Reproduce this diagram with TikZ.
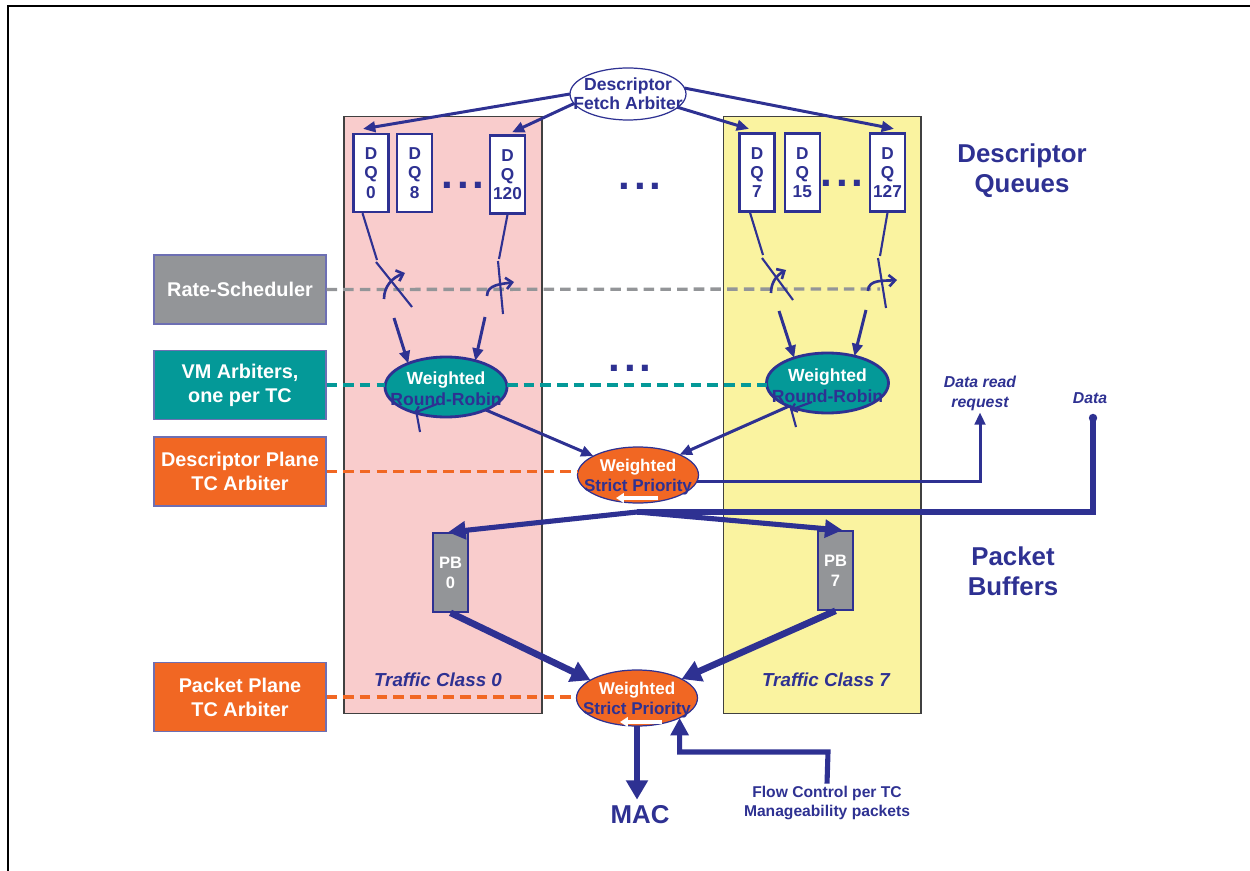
\documentclass[tikz,border=0pt]{standalone}
\usepackage{fontspec}
\setmainfont{Liberation Sans}
\usepackage{xcolor}
\usepackage{tikz}
\usetikzlibrary{arrows.meta,positioning,shapes.geometric,calc}
\definecolor{qblue}{RGB}{46,49,146}
\definecolor{tcpink}{RGB}{249,204,204}
\definecolor{tcyellow}{RGB}{250,243,160}
\definecolor{rsgray}{RGB}{147,149,152}
\definecolor{vmteal}{RGB}{4,153,152}
\definecolor{tcorange}{RGB}{241,103,35}
\tikzset{
  tcband/.style={rectangle, draw=black!75, line width=0.6pt, minimum width=3.96cm, minimum height=11.96cm, inner sep=0},
  tclabel/.style={text=qblue, font=\fontsize{10.7}{12}\selectfont\bfseries\itshape},
  fetchoval/.style={ellipse, draw=qblue, line width=0.7pt, fill=white, minimum width=2.32cm, minimum height=1.04cm, inner sep=0, outer sep=0},
  smalltxt/.style={align=center, text=qblue, inner sep=1pt, font=\fontsize{10}{11}\selectfont\bfseries},
  dqbox/.style={rectangle, draw=qblue, line width=1.3pt, fill=white, minimum width=0.7cm, minimum height=1.56cm, inner sep=0, align=center, text=qblue, font=\fontsize{9.8}{11}\selectfont\bfseries},
  dotstxt/.style={text=qblue, inner sep=0, font=\fontsize{24}{24}\selectfont\bfseries},
  headtxt/.style={align=center, text=qblue, font=\fontsize{14.7}{17}\selectfont\bfseries},
  legendbox/.style={rectangle, draw=qblue!70, line width=0.6pt, minimum width=3.44cm, minimum height=1.38cm, inner sep=0, align=center, text=white, font=\fontsize{11.3}{13.6}\selectfont\bfseries},
  wrroval/.style={ellipse, draw=qblue, line width=1.6pt, fill=vmteal, minimum width=2.44cm, minimum height=1.2cm, inner sep=0, outer sep=0},
  wspoval/.style={ellipse, draw=qblue, line width=0.7pt, fill=tcorange, minimum width=2.42cm, minimum height=1.12cm, inner sep=0, outer sep=0},
  arbtxt/.style={align=center, inner sep=0, text=qblue, font=\fontsize{10}{11.8}\selectfont\bfseries},
  pbbox/.style={rectangle, draw=qblue, line width=0.9pt, fill=rsgray, minimum width=0.7cm, minimum height=1.58cm, inner sep=0, align=center, text=white, font=\fontsize{9.4}{11.5}\selectfont\bfseries},
  noteitxt/.style={align=center, text=qblue, inner sep=1pt, font=\fontsize{9}{11.3}\selectfont\bfseries\itshape},
  notetxt/.style={align=center, text=qblue, inner sep=1pt, font=\fontsize{8.9}{11.3}\selectfont\bfseries},
  dashlink/.style={line width=1.9pt, dash pattern=on 6pt off 3.5pt},
  swline/.style={draw=qblue, line width=1.2pt},
  swarrow/.style={draw=qblue, line width=1.5pt, -{Straight Barb[length=3.5pt,width=6.5pt]}},
  rrmark/.style={draw=qblue, line width=1.2pt, -{Straight Barb[length=3pt,width=5pt]}},
  thinarrow/.style={draw=qblue, line width=1.7pt, -{Triangle[length=7pt,width=6pt]}},
  feedarrow/.style={draw=qblue, line width=2.9pt, -{Triangle[length=10pt,width=10pt]}},
  fatarrow/.style={draw=qblue, line width=3.8pt, -{Triangle[length=11pt,width=12pt]}},
  whitearrow/.style={draw=white, line width=1.8pt, -{Triangle[length=4.5pt,width=5.5pt]}}
}

\begin{document}
\begin{tikzpicture}[x=0.02cm, y=-0.02cm]
\useasboundingbox (0,0) rectangle (1250,871);
\draw[line width=1.3pt] (8,871) -- (8,6) -- (1250,6);

% traffic class columns
\node[tcband, fill=tcpink] (band0) at (443,415) {};
\node[tcband, fill=tcyellow] (band7) at (822,415) {};
\node[tclabel] (tc0) at (438,680) {Traffic Class 0};
\node[tclabel] (tc7) at (826,680) {Traffic Class 7};

% descriptor queues
\node[fetchoval] (fetch) at (628,94) {};
\node[smalltxt] (fetchtxt) at (fetch) {Descriptor\\Fetch Arbiter};
\node[dqbox] (dq0) at (371,173) {D\\Q\\0};
\node[dqbox, right=0.13cm of dq0] (dq8) {D\\Q\\8};
\node[dqbox] (dq120) at (507.5,174.5) {D\\Q\\120};
\node[dqbox] (dq7) at (757,172.5) {D\\Q\\7};
\node[dqbox, right=0.16cm of dq7] (dq15) {D\\Q\\15};
\node[dqbox] (dq127) at (887.5,172.5) {D\\Q\\127};
\node[dotstxt] (dotsa) at (463,185) {.\kern2pt.\kern2pt.};
\node[dotstxt] (dotsb) at (640,186) {.\kern2pt.\kern2pt.};
\node[dotstxt] (dotsc) at (842,183) {.\kern2pt.\kern2pt.};
\node[dotstxt] (dotsd) at (630,368) {.\kern2pt.\kern2pt.};
\node[headtxt] (dqhead) at (1022,171) {Descriptor\\Queues};

\draw[thinarrow] (fetch.180) -- ([xshift=-0.16cm,yshift=0.08cm]dq0.north);
\draw[thinarrow] (fetch.190) -- ([xshift=0.09cm,yshift=0.04cm]dq120.north);
\draw[thinarrow] (fetch.-15) -- ([xshift=-0.16cm,yshift=0.07cm]dq7.north);
\draw[thinarrow] (fetch.6) -- ([xshift=0.13cm,yshift=0.07cm]dq127.north);

% legend boxes
\node[legendbox, fill=rsgray] (ratesch) at (240,289.5) {Rate-Scheduler};
\node[legendbox, fill=vmteal] (vmarb) at (240,385) {VM Arbiters,\\one per TC};
\node[legendbox, fill=tcorange] (dparb) at (240,471.5) {Descriptor Plane\\TC Arbiter};
\node[legendbox, fill=tcorange] (pparb) at (240,697) {Packet Plane\\TC Arbiter};

% arbiters
\node[wrroval] (wrr0) at (446,387) {};
\node[wrroval] (wrr7) at (827.5,383) {};
\node[wspoval] (wspd) at (638,475) {};
\node[wspoval] (wspp) at (637,698) {};

\coordinate (rsend) at (880,289);
\draw[dashlink, rsgray] (ratesch.east) -- (rsend);
\draw[dashlink, vmteal] (vmarb.east) -- (vmarb.east -| wrr0.west);
\draw[dashlink, vmteal] (vmarb.east -| wrr0.east) -- (vmarb.east -| wrr7.west);
\draw[dashlink, tcorange] (dparb.east) -- (dparb.east -| wspd.west);
\draw[dashlink, tcorange] (pparb.east) -- (pparb.east -| wspp.west);

% rate switches
\coordinate (sw0in) at (377,260);
\coordinate (sw0out) at (394,318);
\draw[swline] ([xshift=-0.17cm]dq0.south) -- (sw0in);
\draw[swline] (376,262) -- (412,307);
\draw[swarrow] (384,299) to[out=90,in=200] (405,273);
\draw[thinarrow] (sw0out) -- (wrr0.148);

\coordinate (sw1in) at (499,259);
\coordinate (sw1out) at (485,317);
\draw[swline] (dq120.south) -- (sw1in);
\draw[swline] (498,261) -- (503,314);
\draw[swarrow] (487,296) to[out=90,in=190] (514,282);
\draw[thinarrow] (sw1out) -- (wrr0.42);

\coordinate (sw2in) at (763,255);
\coordinate (sw2out) at (779,311);
\draw[swline] ([xshift=-0.14cm]dq7.south) -- (sw2in);
\draw[swline] (762,258) -- (793,300);
\draw[swarrow] (771,293) to[out=90,in=210] (786,270);
\draw[thinarrow] (sw2out) -- (wrr7.143);

\coordinate (sw3in) at (880,256);
\coordinate (sw3out) at (866,310);
\draw[swline] (dq127.south) -- (sw3in);
\draw[swline] (878,258) -- (886,308);
\draw[swarrow] (868,291) to[out=90,in=185] (897,280);
\draw[thinarrow] (sw3out) -- (wrr7.45);

% round robin marks
\draw[swline] (416,410) -- (420,432);
\draw[rrmark] (437,404) -- (414,413);
\draw[swline] (790,405) -- (796,427);
\draw[rrmark] (812,402) -- (790,410);

\node[arbtxt] (wrr0txt) at (446,389) {\textcolor{white}{Weighted}\\Round-Robin};
\node[arbtxt] (wrr7txt) at (827.5,386) {\textcolor{white}{Weighted}\\Round-Robin};

\draw[thinarrow] (wrr0.-30) -- (wspd.157);
\draw[thinarrow] (wrr7.211) -- (wspd.26);

\node[arbtxt, font=\fontsize{9.7}{11.3}\selectfont\bfseries] (wspdtxt) at (638,477) {\textcolor{white}{Weighted}\\Strict Priority};
\draw[whitearrow] ($(wspd)+(20,23)$) -- ($(wspd)+(-22,23)$);

% data read request and data
\node[noteitxt] (drqtxt) at (980,393) {Data read\\request};
\draw[thinarrow] (wspd.-6) -| (drqtxt.south);
\node[noteitxt] (datatxt) at (1090,398) {Data};
\coordinate (datatop) at (1093,418);
\coordinate (split) at (637,512);
\fill[qblue] (datatop) circle (2.4pt);
\draw[qblue, line width=3.4pt] (datatop) |- (split);

% packet buffers
\node[pbbox] (pb0) at (450.5,572.5) {PB\\0};
\node[pbbox] (pb7) at (835.5,570.5) {PB\\7};
\draw[feedarrow] (split) -- ([xshift=-0.05cm]pb0.north);
\draw[feedarrow] (split) -- ([xshift=0.14cm]pb7.north);
\node[headtxt] (pbhead) at (1013,571) {Packet\\Buffers};

\draw[fatarrow] (pb0.south) -- (wspp.159);
\draw[fatarrow] (pb7.south) -- (wspp.23);

\node[arbtxt, font=\fontsize{9.7}{11.3}\selectfont\bfseries] (wspptxt) at (637,700) {\textcolor{white}{Weighted}\\Strict Priority};
\draw[whitearrow] ($(wspp)+(25,24)$) -- ($(wspp)+(-17,24)$);

% output and flow control
\node[headtxt] (mac) at (640,815) {MAC};
\draw[fatarrow] (wspp.south) -- (wspp.south |- mac.north);
\node[notetxt] (fctxt) at (827,803) {Flow Control per TC\\Manageability packets};
\coordinate (fcbend) at (828,752);
\draw[feedarrow] (fctxt.north) -- (fcbend) -| (wspp.-25);
\end{tikzpicture}
\end{document}
